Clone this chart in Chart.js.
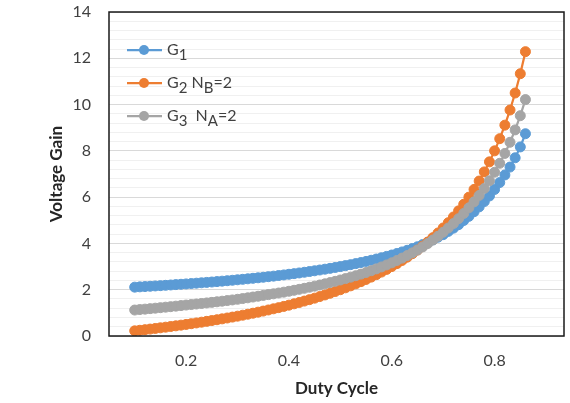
<!DOCTYPE html>
<html>
<head>
<meta charset="utf-8">
<script src="https://cdn.jsdelivr.net/npm/chart.js@4.4.1/dist/chart.umd.min.js"></script>
<style>
    html, body { margin: 0; padding: 0; background: #fff; }
    #wrap { width: 570px; height: 403px; }
</style>
</head>
<body>
<div id="wrap"><canvas id="gainChart" width="570" height="403"></canvas></div>
<script>
const dutyCycle = [
    0.10, 0.11, 0.12, 0.13, 0.14, 0.15, 0.16, 0.17, 0.18, 0.19,
    0.20, 0.21, 0.22, 0.23, 0.24, 0.25, 0.26, 0.27, 0.28, 0.29,
    0.30, 0.31, 0.32, 0.33, 0.34, 0.35, 0.36, 0.37, 0.38, 0.39,
    0.40, 0.41, 0.42, 0.43, 0.44, 0.45, 0.46, 0.47, 0.48, 0.49,
    0.50, 0.51, 0.52, 0.53, 0.54, 0.55, 0.56, 0.57, 0.58, 0.59,
    0.60, 0.61, 0.62, 0.63, 0.64, 0.65, 0.66, 0.67, 0.68, 0.69,
    0.70, 0.71, 0.72, 0.73, 0.74, 0.75, 0.76, 0.77, 0.78, 0.79,
    0.80, 0.81, 0.82, 0.83, 0.84, 0.85, 0.86
];

const gainG1 = [
    2.111, 2.124, 2.136, 2.149, 2.163, 2.176, 2.190, 2.205, 2.220, 2.235,
    2.250, 2.266, 2.282, 2.299, 2.316, 2.333, 2.351, 2.370, 2.389, 2.408,
    2.429, 2.449, 2.471, 2.493, 2.515, 2.538, 2.563, 2.587, 2.613, 2.639,
    2.667, 2.695, 2.724, 2.754, 2.786, 2.818, 2.852, 2.887, 2.923, 2.961,
    3.000, 3.041, 3.083, 3.128, 3.174, 3.222, 3.273, 3.326, 3.381, 3.439,
    3.500, 3.564, 3.632, 3.703, 3.778, 3.857, 3.950, 4.050, 4.155, 4.270,
    4.380, 4.520, 4.660, 4.810, 4.990, 5.170, 5.370, 5.580, 5.810, 6.050,
    6.330, 6.630, 6.960, 7.300, 7.700, 8.170, 8.740
];

const gainG2 = [
    0.222, 0.247, 0.273, 0.299, 0.326, 0.353, 0.381, 0.410, 0.439, 0.469,
    0.500, 0.532, 0.564, 0.597, 0.632, 0.667, 0.703, 0.740, 0.778, 0.817,
    0.857, 0.899, 0.941, 0.985, 1.030, 1.077, 1.125, 1.175, 1.226, 1.279,
    1.333, 1.390, 1.448, 1.509, 1.571, 1.636, 1.704, 1.774, 1.846, 1.922,
    2.000, 2.082, 2.167, 2.255, 2.348, 2.444, 2.545, 2.651, 2.762, 2.878,
    3.000, 3.128, 3.263, 3.405, 3.556, 3.714, 3.882, 4.061, 4.250, 4.452,
    4.667, 4.897, 5.143, 5.407, 5.692, 6.000, 6.333, 6.696, 7.091, 7.524,
    8.000, 8.526, 9.111, 9.765, 10.500, 11.333, 12.286
];

const gainG3 = [
    1.122, 1.142, 1.161, 1.182, 1.202, 1.224, 1.245, 1.267, 1.290, 1.314,
    1.338, 1.359, 1.382, 1.405, 1.429, 1.453, 1.478, 1.504, 1.531, 1.558,
    1.586, 1.617, 1.650, 1.684, 1.718, 1.754, 1.788, 1.822, 1.858, 1.895,
    1.933, 1.975, 2.017, 2.061, 2.107, 2.155, 2.204, 2.255, 2.308, 2.363,
    2.420, 2.480, 2.542, 2.606, 2.674, 2.744, 2.820, 2.900, 2.983, 3.071,
    3.163, 3.262, 3.366, 3.476, 3.592, 3.714, 3.850, 3.994, 4.147, 4.310,
    4.483, 4.666, 4.861, 5.070, 5.296, 5.540, 5.796, 6.074, 6.377, 6.710,
    7.075, 7.463, 7.889, 8.371, 8.906, 9.520, 10.214
];

const xTickValues = [0.2, 0.4, 0.6, 0.8];
const yTickValues = [0, 2, 4, 6, 8, 10, 12, 14];
const yMinorStep = 0.4;

// legend text pieces: [text, isSubscript]
const legendLabels = [
    [['G', false], ['1', true]],
    [['G', false], ['2', true], [' N', false], ['B', true], ['=2', false]],
    [['G', false], ['3', true], ['  N', false], ['A', true], ['=2', false]]
];

const BLUE = '#5B9BD5', ORANGE = '#ED7D31', GRAY = '#A5A5A5';
const FONT = 'Lato, "Open Sans", sans-serif';

function toPoints(ys) {
    return dutyCycle.map((d, i) => ({ x: d, y: ys[i] }));
}

function isMajor(v) {
    return Math.abs(v / 2 - Math.round(v / 2)) < 1e-6;
}

const seriesDefs = [
    { color: BLUE, data: gainG1, order: 3 },
    { color: ORANGE, data: gainG2, order: 2 },
    { color: GRAY, data: gainG3, order: 1 }
];

const frameAndLegend = {
    id: 'frameAndLegend',
    afterDraw(chart) {
        const ctx = chart.ctx;
        const a = chart.chartArea;
        ctx.save();
        ctx.strokeStyle = '#1a1a1a';
        ctx.lineWidth = 1.5;
        ctx.strokeRect(a.left, a.top, a.right - a.left, a.bottom - a.top);

        // legend inside the plot, top-left
        const rowY = [50, 83, 116];
        legendLabels.forEach((parts, i) => {
            const y = rowY[i];
            const color = seriesDefs[i].color;
            ctx.strokeStyle = color;
            ctx.lineWidth = 2.25;
            ctx.beginPath();
            ctx.moveTo(127, y);
            ctx.lineTo(162, y);
            ctx.stroke();
            ctx.fillStyle = color;
            ctx.beginPath();
            ctx.arc(144, y, 5, 0, Math.PI * 2);
            ctx.fill();

            let x = 167;
            ctx.textBaseline = 'alphabetic';
            ctx.textAlign = 'left';
            parts.forEach(([txt, sub]) => {
                ctx.font = (sub ? '15px ' : '16px ') + FONT;
                ctx.fillStyle = '#404040';
                ctx.fillText(txt, x, y + (sub ? 10 : 5));
                x += ctx.measureText(txt).width;
            });
        });
        ctx.restore();
    }
};

const ctx = document.getElementById('gainChart').getContext('2d');
new Chart(ctx, {
    type: 'line',
    data: {
        datasets: seriesDefs.map(s => ({
            data: toPoints(s.data),
            borderColor: s.color,
            backgroundColor: s.color,
            pointBackgroundColor: s.color,
            pointBorderColor: s.color,
            pointBorderWidth: 1,
            pointRadius: 5,
            borderWidth: 2.25,
            tension: 0,
            fill: false,
            order: s.order
        }))
    },
    options: {
        responsive: false,
        animation: false,
        layout: { padding: { left: 46, right: 3, top: 12, bottom: 0 } },
        plugins: {
            legend: { display: false },
            tooltip: { enabled: false }
        },
        scales: {
            x: {
                type: 'linear',
                min: 0.05,
                max: 0.935,
                afterBuildTicks: scale => {
                    scale.ticks = xTickValues.map(v => ({ value: v }));
                },
                afterFit: scale => {
                    scale.height = 67;
                    scale.paddingLeft = 0;
                    scale.paddingRight = 0;
                },
                grid: { display: false, drawTicks: false },
                border: { display: false },
                ticks: {
                    padding: 15,
                    color: '#404040',
                    font: { family: FONT, size: 16 },
                    callback: v => v.toFixed(1)
                },
                title: {
                    display: true,
                    text: 'Duty Cycle',
                    color: '#262626',
                    font: { family: FONT, size: 17, weight: 'bold' },
                    padding: { top: 0, bottom: 4 }
                }
            },
            y: {
                min: 0,
                max: 14,
                afterBuildTicks: scale => {
                    const ticks = [];
                    const top = yTickValues[yTickValues.length - 1];
                    for (let i = 0; i * yMinorStep <= top + 1e-9; i++) {
                        ticks.push({ value: Math.round(i * yMinorStep * 10) / 10 });
                    }
                    scale.ticks = ticks;
                },
                afterFit: scale => {
                    scale.width = 63;
                    scale.paddingTop = 0;
                    scale.paddingBottom = 0;
                },
                grid: {
                    drawTicks: false,
                    lineWidth: 1,
                    color: c => isMajor(c.tick.value) ? '#d9d9d9' : '#f0f0f0'
                },
                border: { display: false },
                ticks: {
                    autoSkip: false,
                    padding: 18,
                    color: '#404040',
                    font: { family: FONT, size: 16 },
                    callback: v => isMajor(v) && yTickValues.includes(Math.round(v)) ? String(Math.round(v)) : ''
                },
                title: {
                    display: true,
                    text: 'Voltage Gain',
                    color: '#262626',
                    font: { family: FONT, size: 17, weight: 'bold' },
                    padding: { top: 0, bottom: 0 }
                }
            }
        }
    },
    plugins: [frameAndLegend]
});
</script>
</body>
</html>
